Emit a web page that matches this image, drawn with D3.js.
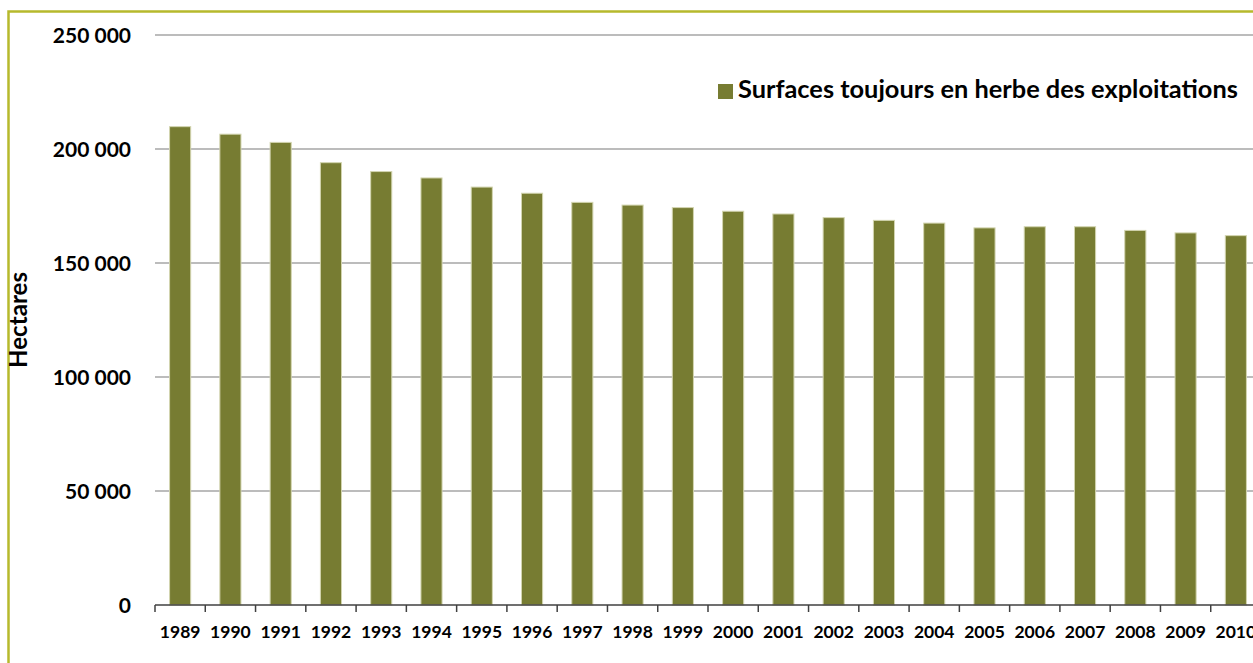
<!DOCTYPE html>
<html>
<head>
<meta charset="utf-8">
<script src="https://cdn.jsdelivr.net/npm/d3@7"></script>
<style>
  html, body { margin: 0; padding: 0; background: #ffffff; overflow: hidden; }
  svg { display: block; }
  text { font-family: Lato, "Open Sans", sans-serif; font-weight: bold; fill: #000; }
</style>
</head>
<body>
<svg id="chart" width="1253" height="663"></svg>
<script>
const years = ["1989","1990","1991","1992","1993","1994","1995","1996","1997","1998","1999",
               "2000","2001","2002","2003","2004","2005","2006","2007","2008","2009","2010"];
const surfaces = [209800, 206500, 202900, 194000, 190100, 187300, 183300, 180600, 176600, 175400, 174300,
                  172700, 171500, 169900, 168700, 167500, 165400, 165900, 165900, 164300, 163200, 162000];
const yTicks = [0, 50000, 100000, 150000, 200000, 250000];
const seriesName = "Surfaces toujours en herbe des exploitations";
const yTitle = "Hectares";

const svg = d3.select("#chart");
const W = 1253, H = 663;

// fit a text element's font size so it spans a target length
function fitText(sel, baseSize, target) {
  sel.style("font-size", baseSize + "px");
  const w = sel.node().getComputedTextLength();
  sel.style("font-size", (baseSize * target / w).toFixed(2) + "px");
}

// outer chart border (cut off at right / bottom like the reference)
svg.append("rect")
  .attr("x", 8.5).attr("y", 11.5)
  .attr("width", W + 20).attr("height", H + 20)
  .attr("fill", "none").attr("stroke", "#b6b92c").attr("stroke-width", 2.5);

const plot = { left: 155, right: 1261, top: 35, bottom: 605 };

const x = d3.scaleBand().domain(years).range([plot.left, plot.right]).paddingInner(0.58).paddingOuter(0.29);
const xb = d3.scaleBand().domain(years).range([plot.left, plot.right]).padding(0);
const y = d3.scaleLinear().domain([0, 250000]).range([plot.bottom, plot.top]);

const fmt = v => d3.format(",")(v).replace(/,/g, " ");

// gridlines
svg.append("g")
  .selectAll("line").data(yTicks.filter(d => d > 0)).join("line")
  .attr("x1", plot.left).attr("x2", W + 10)
  .attr("y1", d => y(d)).attr("y2", d => y(d))
  .attr("stroke", "#a6a6a6").attr("stroke-width", 1.5);

// y tick labels
svg.append("g")
  .selectAll("text").data(yTicks).join("text")
  .attr("x", 131).attr("y", d => y(d)).attr("dy", "0.36em")
  .attr("text-anchor", "end")
  .style("font-size", "21px")
  .text(fmt);

// bars
svg.append("g")
  .selectAll("rect").data(years).join("rect")
  .attr("x", (d) => x(d)).attr("width", x.bandwidth())
  .attr("y", (d, i) => y(surfaces[i]))
  .attr("height", (d, i) => y(0) - y(surfaces[i]))
  .attr("fill", "#777c32")
  .attr("stroke", "#d3d5b0").attr("stroke-width", 1);

// x axis
const xAxis = svg.append("g");
xAxis.append("line")
  .attr("x1", plot.left).attr("x2", W + 10)
  .attr("y1", plot.bottom).attr("y2", plot.bottom)
  .attr("stroke", "#404040").attr("stroke-width", 1.5);
xAxis.selectAll("line.tick").data(years).join("line")
  .attr("class", "tick")
  .attr("x1", d => xb(d)).attr("x2", d => xb(d))
  .attr("y1", plot.bottom).attr("y2", plot.bottom + 7)
  .attr("stroke", "#404040").attr("stroke-width", 1.5);
xAxis.selectAll("text").data(years).join("text")
  .attr("x", d => xb(d) + xb.bandwidth() / 2)
  .attr("y", 638)
  .attr("text-anchor", "middle")
  .style("font-size", "17.5px")
  .text(d => d);

// y axis title
const yt = svg.append("text")
  .attr("transform", "translate(27,320) rotate(-90)")
  .attr("text-anchor", "middle")
  .text(yTitle);
fitText(yt, 20, 96);

// legend
const leg = svg.append("g");
leg.append("rect").attr("x", 718).attr("y", 84).attr("width", 15).attr("height", 15).attr("fill", "#777c32");
const lt = leg.append("text").attr("x", 738).attr("y", 98).text(seriesName);
fitText(lt, 20, 500);
</script>
</body>
</html>
